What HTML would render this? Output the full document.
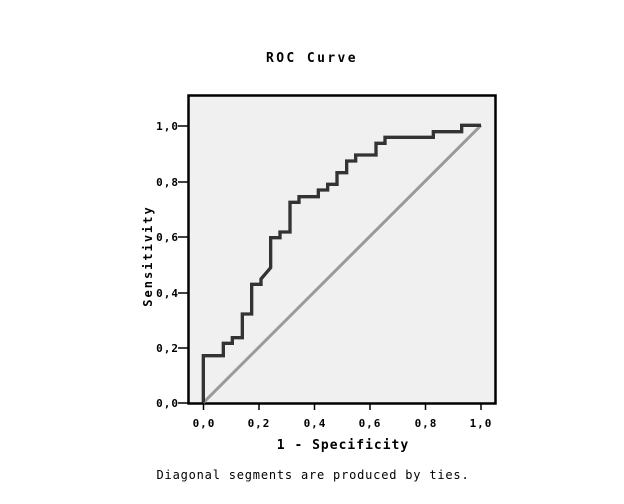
<!DOCTYPE html>
<html><head><style>
body{margin:0;background:#fff;width:624px;height:499px;overflow:hidden}
</style></head><body>
<svg width="624" height="499" xmlns="http://www.w3.org/2000/svg" font-family="'DejaVu Sans Mono','Liberation Mono',monospace">
<text x="312" y="62" text-anchor="middle" font-size="13" font-weight="bold" letter-spacing="2.4">ROC Curve</text>
<rect x="188.5" y="95.5" width="307" height="308" fill="#f0f0f0" stroke="#000" stroke-width="2.5"/>
<g stroke="#000" stroke-width="1.5">
<line x1="178" y1="403" x2="188" y2="403"/><line x1="178" y1="348" x2="188" y2="348"/>
<line x1="178" y1="293" x2="188" y2="293"/><line x1="178" y1="237" x2="188" y2="237"/>
<line x1="178" y1="182" x2="188" y2="182"/><line x1="178" y1="126" x2="188" y2="126"/>
<line x1="203.5" y1="403" x2="203.5" y2="410"/><line x1="259" y1="403" x2="259" y2="410"/>
<line x1="314.5" y1="403" x2="314.5" y2="410"/><line x1="370" y1="403" x2="370" y2="410"/>
<line x1="425.5" y1="403" x2="425.5" y2="410"/><line x1="481" y1="403" x2="481" y2="410"/>
</g>
<g font-size="11" font-weight="bold" text-anchor="end" letter-spacing="1">
<text x="179" y="407">0,0</text><text x="179" y="352">0,2</text><text x="179" y="297">0,4</text>
<text x="179" y="241">0,6</text><text x="179" y="186">0,8</text><text x="179" y="130">1,0</text>
</g>
<g font-size="11" font-weight="bold" text-anchor="middle" letter-spacing="1">
<text x="204" y="427">0,0</text><text x="259" y="427">0,2</text><text x="315" y="427">0,4</text>
<text x="370" y="427">0,6</text><text x="426" y="427">0,8</text><text x="481" y="427">1,0</text>
</g>
<text x="343" y="449" text-anchor="middle" font-size="13" font-weight="bold" letter-spacing="1">1 - Specificity</text>
<text transform="translate(152,256) rotate(-90)" text-anchor="middle" font-size="12" font-weight="bold" letter-spacing="2">Sensitivity</text>
<text x="313" y="479" text-anchor="middle" font-size="12" letter-spacing="0.8">Diagonal segments are produced by ties.</text>
<svg x="180" y="90" width="320" height="330" viewBox="0 0 960 990">
<line x1="70" y1="938" x2="903" y2="106" stroke="#9a9a9a" stroke-width="9"/>
<polyline fill="none" stroke="#333" stroke-width="10" points="70,938 70,797 130,797 130,760 157,760 157,743 187,743 187,672 215,672 215,583 243,583 243,567 272,533 272,443 300,443 300,426 330,426 330,337 357,337 357,320 415,320 415,300 443,300 443,283 471,283 471,248 500,248 500,213 527,213 527,195 588,195 588,160 615,160 615,142 760,142 760,125 845,125 845,106 903,106"/>
</svg>
</svg>
</body></html>
